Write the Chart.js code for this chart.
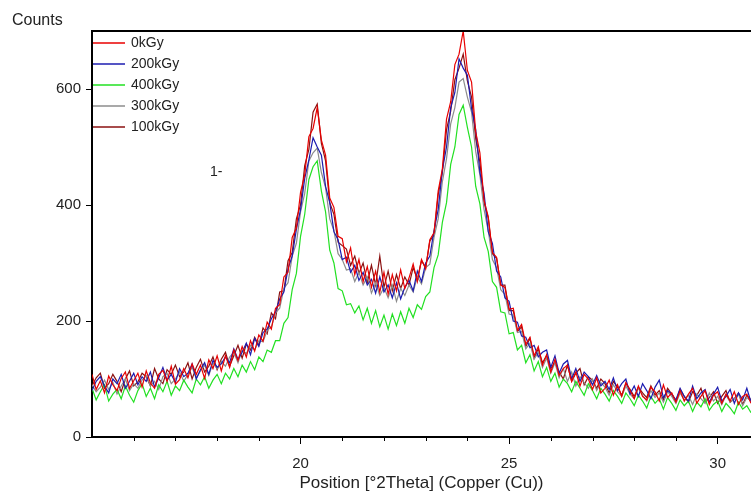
<!DOCTYPE html>
<html>
<head>
<meta charset="utf-8">
<script src="https://cdn.jsdelivr.net/npm/chart.js@4.4.0/dist/chart.umd.min.js"></script>
<style>
  html, body { margin: 0; padding: 0; background: #fff; }
  #xrd { display: block; }
</style>
</head>
<body>
<canvas id="xrd" width="751" height="494"></canvas>
<script>
//// data (step 0.1 °2Theta)
const positions = [
  15.0,15.1,15.2,15.3,15.4,15.5,15.6,15.7,15.8,15.9,16.0,
  16.1,16.2,16.3,16.4,16.5,16.6,16.7,16.8,16.9,17.0,
  17.1,17.2,17.3,17.4,17.5,17.6,17.7,17.8,17.9,18.0,
  18.1,18.2,18.3,18.4,18.5,18.6,18.7,18.8,18.9,19.0,
  19.1,19.2,19.3,19.4,19.5,19.6,19.7,19.8,19.9,20.0,
  20.1,20.2,20.3,20.4,20.5,20.6,20.7,20.8,20.9,21.0,
  21.1,21.2,21.3,21.4,21.5,21.6,21.7,21.8,21.9,22.0,
  22.1,22.2,22.3,22.4,22.5,22.6,22.7,22.8,22.9,23.0,
  23.1,23.2,23.3,23.4,23.5,23.6,23.7,23.8,23.9,24.0,
  24.1,24.2,24.3,24.4,24.5,24.6,24.7,24.8,24.9,25.0,
  25.1,25.2,25.3,25.4,25.5,25.6,25.7,25.8,25.9,26.0,
  26.1,26.2,26.3,26.4,26.5,26.6,26.7,26.8,26.9,27.0,
  27.1,27.2,27.3,27.4,27.5,27.6,27.7,27.8,27.9,28.0,
  28.1,28.2,28.3,28.4,28.5,28.6,28.7,28.8,28.9,29.0,
  29.1,29.2,29.3,29.4,29.5,29.6,29.7,29.8,29.9,30.0,
  30.1,30.2,30.3,30.4,30.5,30.6,30.7,30.8
];

const counts0kGy = [
  108,82,97,76,105,90,80,101,112,84,97,
  110,86,114,93,84,108,115,96,122,91,
  99,118,102,126,108,124,101,133,118,140,
  114,140,120,150,132,156,138,166,148,176,
  165,198,186,222,228,276,284,344,360,422,
  452,518,532,568,512,486,412,396,346,342,
  302,326,280,306,268,294,258,286,250,284,
  246,280,252,288,256,274,298,268,306,290,
  340,352,424,462,548,578,642,660,700,632,
  612,526,490,408,380,318,310,262,258,220,
  222,184,194,160,172,140,156,124,142,112,
  134,106,118,124,96,112,88,108,100,82,
  102,76,84,98,72,90,70,94,80,66,
  88,70,64,86,78,62,90,68,76,60,
  80,62,74,84,58,70,80,56,72,78,
  58,74,62,78,56,70,74,58
];

const counts200kGy = [
  80,96,104,88,76,100,92,108,84,96,110,
  90,104,96,112,86,102,120,98,108,94,
  118,104,110,126,100,116,128,108,132,120,
  126,138,128,152,134,146,162,142,170,156,
  180,186,204,216,238,250,290,312,358,392,
  446,478,516,500,486,432,404,354,340,306,
  310,284,296,270,284,262,272,248,276,250,
  262,240,266,238,258,270,252,286,268,300,
  312,356,392,460,500,568,594,652,636,624,
  566,530,456,420,354,334,286,276,240,234,
  200,198,174,172,154,158,138,146,150,120,
  140,110,126,132,100,118,96,112,104,90,
  106,88,96,82,102,80,92,100,74,88,
  70,92,80,66,86,98,68,80,74,64,
  84,70,62,88,66,76,82,60,74,86,
  62,70,82,58,76,64,84,60
];

const counts400kGy = [
  84,64,78,90,62,74,82,66,88,72,60,
  80,92,70,84,66,90,78,96,72,88,
  80,98,86,76,100,90,104,84,98,108,
  92,110,100,118,104,124,112,130,116,138,
  130,150,146,166,166,196,206,254,282,346,
  384,444,466,476,424,388,322,300,256,252,
  228,230,214,226,202,222,196,218,190,210,
  186,212,192,216,196,222,206,228,220,242,
  250,292,314,370,404,470,500,556,572,534,
  500,432,402,344,320,268,258,216,214,178,
  180,150,158,128,142,114,130,104,120,96,
  110,86,100,92,78,96,84,72,92,80,
  66,84,74,62,80,70,58,76,66,54,
  72,62,50,70,58,66,48,68,58,46,
  64,54,62,44,60,52,66,46,56,62,
  44,58,50,40,60,48,54,42
];

const counts300kGy = [
  90,78,86,98,82,94,74,88,100,80,92,
  84,98,106,88,96,82,104,110,92,100,
  112,96,108,120,102,114,124,106,128,118,
  130,122,138,146,128,150,144,158,150,166,
  164,184,190,214,222,256,266,312,334,388,
  420,476,490,498,456,430,376,356,316,306,
  288,290,268,284,262,276,248,266,244,258,
  240,262,234,256,244,262,250,276,264,292,
  298,344,376,440,480,540,568,612,618,586,
  560,492,452,392,356,306,292,254,246,212,
  210,180,182,152,162,134,146,120,136,110,
  128,102,118,96,112,88,104,94,84,100,
  80,94,86,72,90,78,70,88,74,66,
  84,72,62,80,68,76,60,78,70,58,
  76,64,72,56,74,66,58,76,62,70,
  56,72,60,66,74,54,68,62
];

const counts100kGy = [
  88,102,110,84,92,108,96,78,100,114,88,
  95,110,104,88,118,100,92,116,108,124,
  104,112,128,100,120,134,112,122,138,116,
  134,146,122,140,158,136,160,150,172,158,
  188,178,214,204,250,252,304,318,376,400,
  468,496,560,574,506,476,404,384,336,330,
  324,296,312,282,300,266,296,262,312,258,
  286,252,280,256,276,262,292,272,304,292,
  338,348,418,456,530,562,616,636,660,614,
  586,514,474,404,378,316,308,262,262,218,
  218,182,190,156,170,136,152,128,140,118,
  128,112,100,124,96,110,118,90,104,98,
  84,100,92,76,96,86,72,92,82,70,
  86,76,68,88,72,80,64,84,74,62,
  82,70,60,78,72,84,60,68,78,58,
  70,80,60,66,76,56,72,64
];

const seriesLabels = ["0kGy", "200kGy", "400kGy", "300kGy", "100kGy"];
const seriesColors = ["#e80000", "#1c1cb0", "#22e022", "#8c8c8c", "#8b1010"];
const seriesCounts = [counts0kGy, counts200kGy, counts400kGy, counts300kGy, counts100kGy];

const xTicks = [20, 25, 30];
const xMinorTicks = [16, 17, 18, 19, 21, 22, 23, 24, 26, 27, 28, 29];
const yTicks = [0, 200, 400, 600];

const FONT = "'Liberation Sans', Arial, sans-serif";

//// extra drawing: frame top, minor ticks, legend and labels
const decorations = {
  id: "decorations",
  afterDraw(chart) {
    const ctx = chart.ctx;
    const area = chart.chartArea;
    const xScale = chart.scales.x;
    ctx.save();

    ctx.strokeStyle = "#000";
    ctx.lineWidth = 2;
    ctx.beginPath();
    ctx.moveTo(area.left - 1, area.top);
    ctx.lineTo(chart.width, area.top);
    ctx.stroke();

    ctx.lineWidth = 1;
    ctx.beginPath();
    xMinorTicks.forEach((v) => {
      const px = Math.round(xScale.getPixelForValue(v)) + 0.5;
      ctx.moveTo(px, area.bottom);
      ctx.lineTo(px, area.bottom + 4);
    });
    ctx.stroke();

    ctx.fillStyle = "#222";
    ctx.font = "16px " + FONT;
    ctx.textBaseline = "middle";
    ctx.textAlign = "left";
    ctx.fillText("Counts", 12, 21);

    ctx.font = "14px " + FONT;
    seriesLabels.forEach((label, i) => {
      const y = Math.round(area.top + 12 + i * 21);
      ctx.strokeStyle = seriesColors[i];
      ctx.lineWidth = 1.5;
      ctx.beginPath();
      ctx.moveTo(area.left + 1, y);
      ctx.lineTo(area.left + 33, y);
      ctx.stroke();
      ctx.fillStyle = "#222";
      ctx.fillText(label, area.left + 39, y);
    });

    ctx.fillText("1-", 210, 172);
    ctx.restore();
  }
};

function buildDatasets() {
  return seriesLabels.map((label, i) => ({
    label: label,
    data: positions.map((x, j) => ({ x: x, y: seriesCounts[i][j] })),
    borderColor: seriesColors[i],
    borderWidth: 1.2,
    pointRadius: 0,
    tension: 0,
    fill: false
  }));
}

new Chart(document.getElementById("xrd"), {
  type: "line",
  data: { datasets: buildDatasets() },
  plugins: [decorations],
  options: {
    responsive: false,
    animation: false,
    layout: { padding: { left: 0, right: 0, top: 31, bottom: 0 } },
    plugins: { legend: { display: false }, tooltip: { enabled: false } },
    scales: {
      x: {
        type: "linear",
        min: 15,
        max: 30.8,
        afterBuildTicks: (scale) => { scale.ticks = xTicks.map((v) => ({ value: v })); },
        afterFit: (scale) => { scale.height = 57; },
        grid: { drawOnChartArea: false, drawTicks: true, tickLength: 7, tickColor: "#000", tickWidth: 1 },
        border: { display: true, color: "#000", width: 2 },
        ticks: { color: "#222", font: { family: FONT, size: 15 }, padding: 11, maxRotation: 0 },
        title: {
          display: true,
          text: "Position [°2Theta] (Copper (Cu))",
          color: "#222",
          font: { family: FONT, size: 17 },
          padding: { top: 0, bottom: 0 }
        }
      },
      y: {
        min: 0,
        max: 700,
        afterBuildTicks: (scale) => { scale.ticks = yTicks.map((v) => ({ value: v })); },
        afterFit: (scale) => { scale.width = 92; },
        grid: { drawOnChartArea: false, drawTicks: true, tickLength: 6, tickColor: "#000", tickWidth: 1 },
        border: { display: true, color: "#000", width: 2 },
        ticks: { color: "#222", font: { family: FONT, size: 15 }, padding: 5 }
      }
    }
  }
});
</script>
</body>
</html>
